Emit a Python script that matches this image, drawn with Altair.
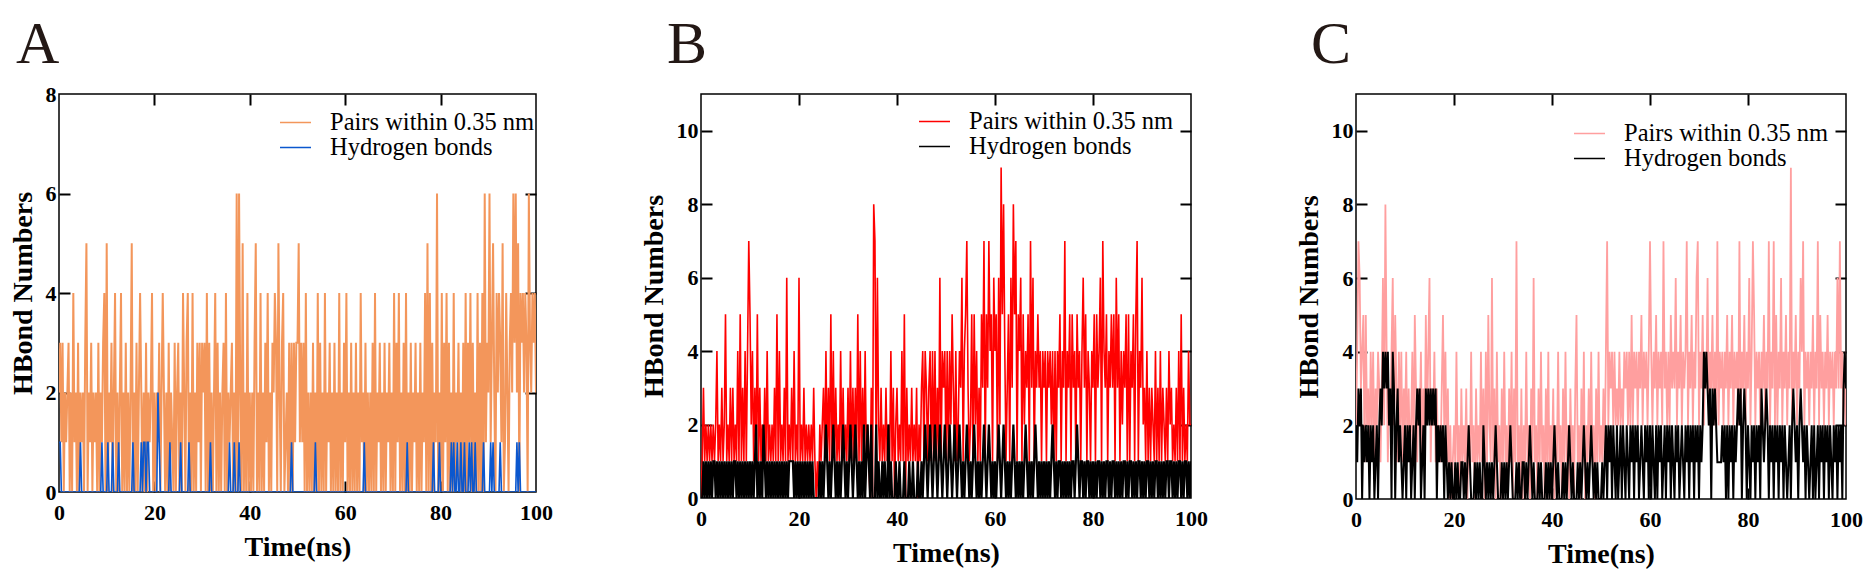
import altair as alt
import numpy as np
import pandas as pd

FONT = "Liberation Serif"
STEP_NS = 0.25
PANEL_LABELS = ["A", "B", "C"]
SERIES_NAMES = ["Pairs within 0.35 nm", "Hydrogen bonds"]
X_TICKS = [0, 20, 40, 60, 80, 100]
A_Y_TICKS = [0, 2, 4, 6, 8]
BC_Y_TICKS = [0, 2, 4, 6, 8, 10]

# ---- Panel A (one group of 10 samples = 2.5 ns) ----
A_PAIRS = (
    "2313021230" "2041203021" "2035021302" "1203021340"
    "5021302402" "0240203020" "2502030242" "0203021240"
    "2021302420" "2030210302" "3020420340" "2040203130"
    "3230403020" "2403020230" "4021230206" "0620502040"
    "2020350204" "0203140203" "2430520340" "1203030313"
    "3513130402" "0203020403" "0204021302" "0302040203"
    "1402030203" "0204120302" "0203040213" "0203021302"
    "0403140203" "0402030213" "0203021405" "0403021602"
    "0403140302" "0402130203" "0403140302" "0403040613"
    "2613520424" "3150142034" "2636250434" "2430632434"
    "2"
)
A_HBOND = (
    "1100000000" "0000000010" "0000000000" "0000001000"
    "0100010000" "1000000000" "0010000001" "0110110000"
    "0002100000" "0001000000" "0010000001" "0000000000"
    "0000000100" "0000000000" "0001000100" "0100000000"
    "0000000000" "0000000000" "0000000000" "0000010000"
    "0000000000" "0000010000" "0000000000" "0000000000"
    "0000000000" "0000001000" "0000000000" "0000000000"
    "0000000000" "0010000000" "0000000000" "0000100001"
    "0000000001" "0100100100" "1000101001" "0000001000"
    "0010100000" "1000000000" "0000101000" "0000000000"
    "0"
)
# ---- Panel B ----
B_PAIRS = (
    "0131212121" "2124121312" "5121313121" "4151314147"
    "5241315131" "2131412121" "3151412131" "6121314121"
    "6121312121" "2131010212" "3141315141" "3121413121"
    "3141313151" "4131412103" "0871621312" "1312141302"
    "3121415031" "2131213021" "3414313414" "1413161434"
    "1414253141" "2436145731" "2515241315" "3715374516"
    "4516295841" "3516385715" "4615243517" "3614353414"
    "3414342414" "1435143714" "3515341534" "1463514314"
    "3515346174" "3514353516" "3514243515" "1435157143"
    "6231413132" "1413141321" "3142312131" "4151312142"
    "2"
)
B_HBOND = (
    "0010101010" "1101010101" "0101010110" "1010101010"
    "1010120101" "0210101010" "1010101010" "1011110101"
    "0101010101" "0100000101" "0121010121" "0101012101"
    "0121012101" "0102012102" "0002010010" "1002010001"
    "0010001000" "1001000100" "1012101210" "1210121012"
    "1012101210" "1210101210" "1012101010" "1210121010"
    "1012101210" "1010121010" "1010121010" "1012101010"
    "1010101210" "1011010101" "0101101210" "1101011010"
    "1010110101" "0110101101" "0101011010" "1101010110"
    "1010110101" "0110101010" "1101101010" "1101011010"
    "1"
)
# ---- Panel C ----
C_PAIRS = (
    "2476345152" "3142413243" "1362841324" "6253142413"
    "2413124153" "1324131524" "6132413121" "3524130201"
    "2141203121" "3021412031" "2141304152" "1613041203"
    "1412031403" "1712030214" "1203161203" "1412031402"
    "1302141203" "1412031203" "5120314021" "3141203141"
    "2131472434" "2423242324" "3424252434" "2435243424"
    "7424352434" "2734242534" "3624352434" "7243524367"
    "2435243624" "3524272434" "2435243524" "3427243524"
    "3624752434" "2435243724" "3725243624" "3524392435"
    "2436472434" "2435243725" "3424352434" "2436373424"
    "2"
)
C_HBOND = (
    "2132302121" "2021201202" "3243434230" "4302312101"
    "2021201202" "3230120323" "2323230212" "1202101010"
    "0101001101" "0121000101" "0100210101" "0101210001"
    "0101012100" "0101001101" "0121010001" "0100010101"
    "0121010001" "0101210100" "0101012101" "0121010100"
    "0101202120" "2102012021" "0210212021" "2012102120"
    "2021020212" "0120212021" "0212012102" "1202120212"
    "0212434323" "0323211112" "1202021202" "1232302320"
    "2102120212" "0321232021" "2021202120" "2101202321"
    "2023212021" "0120201202" "1202120210" "2120212034"
    "3"
)

A_COLORS = ["#F3965B", "#0B57CE"]
B_COLORS = ["#FF0000", "#000000"]
C_COLORS = ["#FF9F9F", "#000000"]


def to_frame(digits, name):
    vals = [int(c) for c in digits]
    return pd.DataFrame({"t": np.arange(len(vals)) * STEP_NS, "v": vals, "series": name})


def tick_axis(orient, offset, values):
    return alt.Axis(orient=orient, offset=offset, values=values, ticks=True,
                    tickSize=11, tickWidth=2, tickColor="black", labels=False,
                    domain=False, grid=False, title=None)


def panel(label, pairs, hbond, y_max, y_ticks, colors, legend_xy, letter_xy,
          width, height, widths):
    df_p = to_frame(pairs, SERIES_NAMES[0])
    df_h = to_frame(hbond, SERIES_NAMES[1])
    xs = alt.Scale(domain=[0, 100], nice=False, zero=False)
    ys = alt.Scale(domain=[0, y_max], nice=False, zero=True)
    inner_x = [v for v in X_TICKS if 0 < v < 100]
    inner_y = [v for v in y_ticks if 0 < v < y_max]

    color = alt.Color(
        "series:N",
        scale=alt.Scale(domain=SERIES_NAMES, range=colors),
        legend=alt.Legend(orient="none", legendX=legend_xy[0], legendY=legend_xy[1],
                          title=None, symbolType="stroke", symbolSize=961,
                          symbolStrokeWidth=1.5, labelFont=FONT, labelFontSize=24.5,
                          labelColor="black", labelOffset=18, labelLimit=500,
                          clipHeight=23, rowPadding=0, padding=0),
    )
    x_lab = alt.Axis(orient="bottom", values=X_TICKS, format="d", ticks=False,
                     domain=False, grid=False, labelFont=FONT, labelFontSize=22,
                     labelFontWeight="bold", labelColor="black", labelPadding=10,
                     labelFlush=False, labelOverlap=False, title="Time(ns)",
                     titleFont=FONT, titleFontSize=28, titleFontWeight="bold",
                     titleColor="black", titlePadding=10)
    y_lab = alt.Axis(orient="left", values=y_ticks, format="d", ticks=False,
                     domain=False, grid=False, labelFont=FONT, labelFontSize=22,
                     labelFontWeight="bold", labelColor="black", labelPadding=3,
                     labelFlush=False, labelOverlap=False, title="HBond Numbers",
                     titleFont=FONT, titleFontSize=28, titleFontWeight="bold",
                     titleColor="black", titlePadding=8)

    pairs_layer = alt.Chart(df_p).mark_line(strokeWidth=widths[0], clip=True).encode(
        x=alt.X("t:Q", scale=xs, axis=x_lab),
        y=alt.Y("v:Q", scale=ys, axis=y_lab),
        color=color,
    )
    hbond_layer = alt.Chart(df_h).mark_line(strokeWidth=widths[1], clip=True).encode(
        x=alt.X("t:Q", scale=xs, axis=tick_axis("top", -height, inner_x)),
        y=alt.Y("v:Q", scale=ys, axis=tick_axis("right", -width, inner_y)),
        color=color,
    )
    frame_layer = alt.Chart(df_p).mark_line(strokeOpacity=0).encode(
        x=alt.X("t:Q", scale=xs, axis=tick_axis("bottom", -height, inner_x)),
        y=alt.Y("v:Q", scale=ys, axis=tick_axis("left", -width, inner_y)),
    )
    letter = alt.Chart(pd.DataFrame({"label": [label]})).mark_text(
        font=FONT, fontSize=60, color="#231815", align="left", baseline="alphabetic"
    ).encode(x=alt.value(letter_xy[0]), y=alt.value(letter_xy[1]), text="label:N")

    return alt.layer(pairs_layer, hbond_layer, frame_layer, letter).resolve_scale(
        x="independent", y="independent"
    ).properties(width=width, height=height)


pA = panel(PANEL_LABELS[0], A_PAIRS, A_HBOND, 8, A_Y_TICKS, A_COLORS,
           (220, 17), (-43, -31), 477, 398, (2.0, 1.6))
pB = panel(PANEL_LABELS[1], B_PAIRS, B_HBOND, 11, BC_Y_TICKS, B_COLORS,
           (217, 16), (-34, -31), 490, 404, (1.6, 2.2))
pC = panel(PANEL_LABELS[2], C_PAIRS, C_HBOND, 11, BC_Y_TICKS, C_COLORS,
           (217, 28), (-45, -31), 490, 405, (1.8, 2.0))

chart = alt.hconcat(pA, pB, pC, spacing=165, bounds="flush").resolve_scale(
    color="independent"
).properties(
    padding={"left": 0, "top": 6, "right": 0, "bottom": 0}
).configure(background="white").configure_view(stroke="black", strokeWidth=1.5)

chart.save("out.html", embed_options={"renderer": "svg", "actions": False})
